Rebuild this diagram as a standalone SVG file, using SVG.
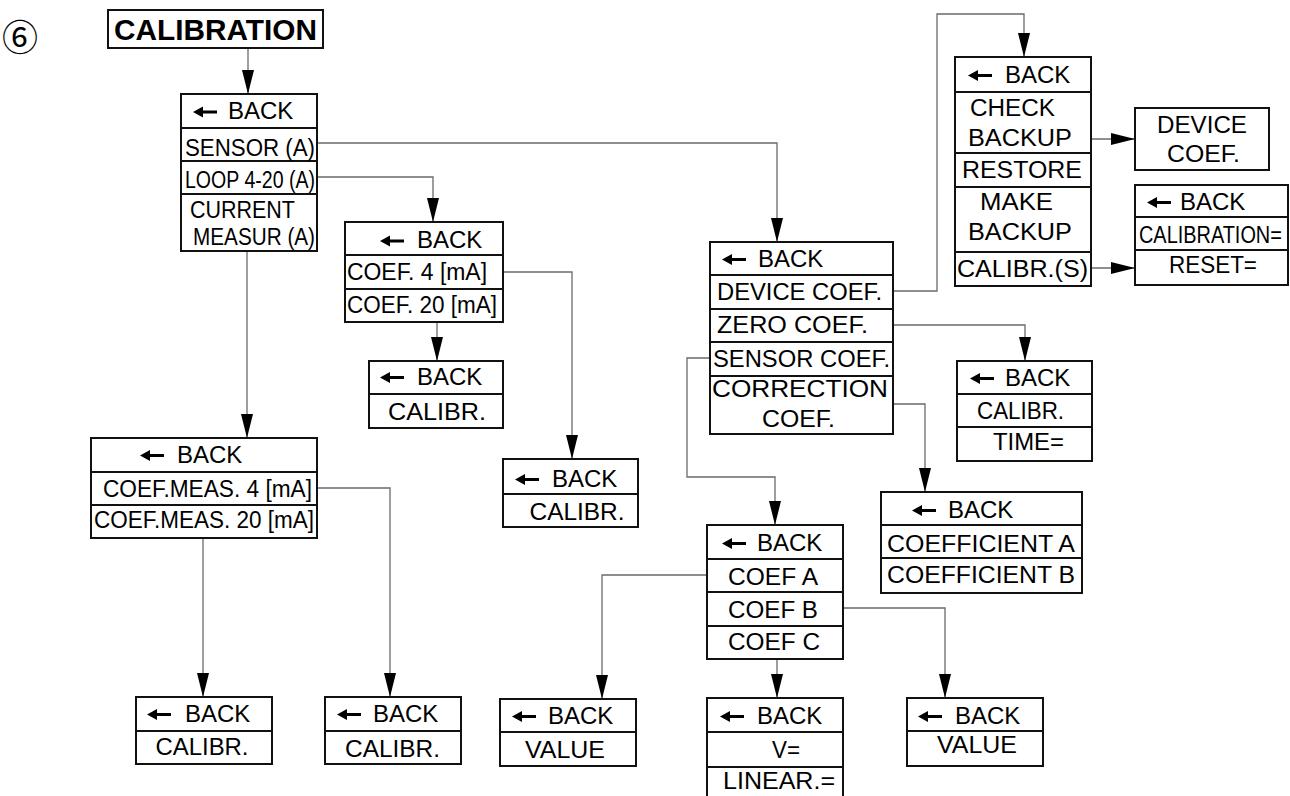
<svg xmlns="http://www.w3.org/2000/svg" xmlns:xlink="http://www.w3.org/1999/xlink" width="1290" height="796" viewBox="0 0 1290 796">
<defs>
<style>
.box{fill:#fff;stroke:#111;stroke-width:2}
.div{stroke:#111;stroke-width:2}
.t{font-family:"Liberation Sans",Arial,sans-serif;font-size:23px;fill:#000}
.b{font-family:"Liberation Sans",Arial,sans-serif;font-size:24px;fill:#000}
.c{fill:none;stroke:#6a6a6a;stroke-width:1.3}
</style>
<path id="bk" d="M0,0 L10,-5.5 L10,-1.6 L24,-1.6 L24,1.6 L10,1.6 L10,5.5 Z" fill="#000"/>
<marker id="ah" markerUnits="userSpaceOnUse" markerWidth="24" markerHeight="12" viewBox="0 0 24 12" refX="24" refY="6" orient="auto">
<path d="M0,0 L24,6 L0,12 Z" fill="#000"/>
</marker>
</defs>
<rect width="1290" height="796" fill="#fff"/>

<g id="connectors">
<path class="c" d="M248,48 V94" marker-end="url(#ah)"/>
<path class="c" d="M317,143 H777 V242" marker-end="url(#ah)"/>
<path class="c" d="M317,177 H433 V222" marker-end="url(#ah)"/>
<path class="c" d="M247,251 V438" marker-end="url(#ah)"/>
<path class="c" d="M503,272 H572 V459" marker-end="url(#ah)"/>
<path class="c" d="M437,322 V361" marker-end="url(#ah)"/>
<path class="c" d="M317,488 H390 V697" marker-end="url(#ah)"/>
<path class="c" d="M203,538 V697" marker-end="url(#ah)"/>
<path class="c" d="M893,291 H937 V14 H1024 V57" marker-end="url(#ah)"/>
<path class="c" d="M1091,139 H1135" marker-end="url(#ah)"/>
<path class="c" d="M1091,268 H1135" marker-end="url(#ah)"/>
<path class="c" d="M893,325 H1025 V361" marker-end="url(#ah)"/>
<path class="c" d="M710,358 H687 V477 H775 V525" marker-end="url(#ah)"/>
<path class="c" d="M893,404 H925 V492" marker-end="url(#ah)"/>
<path class="c" d="M707,575 H602 V699" marker-end="url(#ah)"/>
<path class="c" d="M777,659 V698" marker-end="url(#ah)"/>
<path class="c" d="M843,608 H945 V698" marker-end="url(#ah)"/>
</g>

<g id="n-index">
<text x="20" y="51" font-family="'Noto Sans CJK JP','DejaVu Sans',sans-serif" font-size="36" text-anchor="middle">⑥</text>
</g>

<g id="n-calibration">
<rect class="box" x="108" y="10" width="215" height="38"/>
<text x="215.5" y="40" text-anchor="middle" font-family="'Liberation Sans',Arial,sans-serif" font-size="29" font-weight="bold" textLength="203" lengthAdjust="spacingAndGlyphs">CALIBRATION</text>
</g>

<g id="n-main">
<rect class="box" x="181" y="94" width="136" height="157"/>
<path class="div" d="M181,128 H317 M181,161 H317 M181,194 H317"/>
<use href="#bk" x="193" y="112"/>
<text class="b" x="228" y="119">BACK</text>
<text class="t" x="185" y="156" textLength="130" lengthAdjust="spacingAndGlyphs">SENSOR (A)</text>
<text class="t" x="185" y="188" textLength="130" lengthAdjust="spacingAndGlyphs">LOOP 4-20 (A)</text>
<text class="t" x="190" y="218" textLength="105" lengthAdjust="spacingAndGlyphs">CURRENT</text>
<text class="t" x="193" y="245" textLength="122" lengthAdjust="spacingAndGlyphs">MEASUR (A)</text>
</g>

<g id="n-loop">
<rect class="box" x="345" y="222" width="158" height="100"/>
<path class="div" d="M345,255 H503 M345,289 H503"/>
<use href="#bk" x="380" y="241"/>
<text class="b" x="417" y="248">BACK</text>
<text class="t" x="347" y="280" textLength="140" lengthAdjust="spacingAndGlyphs">COEF. 4 [mA]</text>
<text class="t" x="347" y="313" textLength="150" lengthAdjust="spacingAndGlyphs">COEF. 20 [mA]</text>
</g>

<g id="n-loop-calibr20">
<rect class="box" x="369" y="361" width="134" height="67"/>
<path class="div" d="M369,394 H503"/>
<use href="#bk" x="380" y="377.5"/>
<text class="b" x="417" y="385">BACK</text>
<text class="t" x="437" y="420" text-anchor="middle" textLength="98" lengthAdjust="spacingAndGlyphs">CALIBR.</text>
</g>

<g id="n-loop-calibr4">
<rect class="box" x="503" y="459" width="135" height="68"/>
<path class="div" d="M503,494 H638"/>
<use href="#bk" x="515" y="479.5"/>
<text class="b" x="552" y="487">BACK</text>
<text class="t" x="577" y="520" text-anchor="middle" textLength="95" lengthAdjust="spacingAndGlyphs">CALIBR.</text>
</g>

<g id="n-meas">
<rect class="box" x="91" y="438" width="226" height="100"/>
<path class="div" d="M91,472 H317 M91,505 H317"/>
<use href="#bk" x="140" y="455.5"/>
<text class="b" x="177" y="463">BACK</text>
<text class="t" x="103" y="497" textLength="209" lengthAdjust="spacingAndGlyphs">COEF.MEAS. 4 [mA]</text>
<text class="t" x="94" y="528" textLength="220" lengthAdjust="spacingAndGlyphs">COEF.MEAS. 20 [mA]</text>
</g>

<g id="n-meas-calibr20">
<rect class="box" x="136" y="697" width="136" height="67"/>
<path class="div" d="M136,731 H272"/>
<use href="#bk" x="147" y="714.5"/>
<text class="b" x="185" y="722">BACK</text>
<text class="t" x="202" y="755" text-anchor="middle" textLength="93" lengthAdjust="spacingAndGlyphs">CALIBR.</text>
</g>

<g id="n-meas-calibr4">
<rect class="box" x="325" y="697" width="136" height="67"/>
<path class="div" d="M325,731 H461"/>
<use href="#bk" x="337" y="714.5"/>
<text class="b" x="373" y="722">BACK</text>
<text class="t" x="345" y="757" textLength="95" lengthAdjust="spacingAndGlyphs">CALIBR.</text>
</g>

<g id="n-sensor">
<rect class="box" x="710" y="242" width="183" height="192"/>
<path class="div" d="M710,275 H893 M710,309 H893 M710,342 H893 M710,376 H893"/>
<use href="#bk" x="722" y="259.5"/>
<text class="b" x="758" y="267">BACK</text>
<text class="t" x="717" y="300" textLength="165" lengthAdjust="spacingAndGlyphs">DEVICE COEF.</text>
<text class="t" x="717" y="333" textLength="151" lengthAdjust="spacingAndGlyphs">ZERO COEF.</text>
<text class="t" x="713" y="367" textLength="177" lengthAdjust="spacingAndGlyphs">SENSOR COEF.</text>
<text class="t" x="712" y="397" textLength="176" lengthAdjust="spacingAndGlyphs">CORRECTION</text>
<text class="t" x="762" y="427" textLength="73" lengthAdjust="spacingAndGlyphs">COEF.</text>
</g>

<g id="n-device">
<rect class="box" x="955" y="57" width="136" height="229"/>
<path class="div" d="M955,92 H1091 M955,153 H1091 M955,187 H1091 M955,252 H1091"/>
<use href="#bk" x="968" y="75.5"/>
<text class="b" x="1005" y="83">BACK</text>
<text class="t" x="970" y="116" textLength="85" lengthAdjust="spacingAndGlyphs">CHECK</text>
<text class="t" x="968" y="146" textLength="104" lengthAdjust="spacingAndGlyphs">BACKUP</text>
<text class="t" x="962" y="178" textLength="120" lengthAdjust="spacingAndGlyphs">RESTORE</text>
<text class="t" x="980" y="210" textLength="73" lengthAdjust="spacingAndGlyphs">MAKE</text>
<text class="t" x="968" y="240" textLength="104" lengthAdjust="spacingAndGlyphs">BACKUP</text>
<text class="t" x="957" y="277" textLength="131" lengthAdjust="spacingAndGlyphs">CALIBR.(S)</text>
</g>

<g id="n-devcoef">
<rect class="box" x="1135" y="108" width="134" height="62"/>
<text class="t" x="1157" y="133" textLength="90" lengthAdjust="spacingAndGlyphs">DEVICE</text>
<text class="t" x="1167" y="162" textLength="73" lengthAdjust="spacingAndGlyphs">COEF.</text>
</g>

<g id="n-calibrs">
<rect class="box" x="1135" y="185" width="153" height="100"/>
<path class="div" d="M1135,217 H1288 M1135,250 H1288"/>
<use href="#bk" x="1147" y="202.5"/>
<text class="b" x="1180" y="210">BACK</text>
<text class="t" transform="translate(1139 243) scale(0.866 1)">CALIBRATION=</text>
<text class="t" x="1169" y="273" textLength="88" lengthAdjust="spacingAndGlyphs">RESET=</text>
</g>

<g id="n-zero">
<rect class="box" x="957" y="361" width="135" height="100"/>
<path class="div" d="M957,394 H1092 M957,427 H1092"/>
<use href="#bk" x="970" y="378.5"/>
<text class="b" x="1005" y="386">BACK</text>
<text class="t" x="977" y="419" textLength="87" lengthAdjust="spacingAndGlyphs">CALIBR.</text>
<text class="t" x="993" y="450" textLength="71" lengthAdjust="spacingAndGlyphs">TIME=</text>
</g>

<g id="n-correction">
<rect class="box" x="881" y="492" width="201" height="101"/>
<path class="div" d="M881,525 H1082 M881,558 H1082"/>
<use href="#bk" x="912" y="510.5"/>
<text class="b" x="948" y="518">BACK</text>
<text class="t" x="887" y="552" textLength="188" lengthAdjust="spacingAndGlyphs">COEFFICIENT A</text>
<text class="t" x="887" y="583" textLength="188" lengthAdjust="spacingAndGlyphs">COEFFICIENT B</text>
</g>

<g id="n-sensorcoef">
<rect class="box" x="707" y="525" width="136" height="134"/>
<path class="div" d="M707,559 H843 M707,592 H843 M707,626 H843"/>
<use href="#bk" x="722" y="543.5"/>
<text class="b" x="757" y="551">BACK</text>
<text class="t" x="728" y="585" textLength="90" lengthAdjust="spacingAndGlyphs">COEF A</text>
<text class="t" x="728" y="618" textLength="90" lengthAdjust="spacingAndGlyphs">COEF B</text>
<text class="t" x="728" y="650" textLength="92" lengthAdjust="spacingAndGlyphs">COEF C</text>
</g>

<g id="n-coefa">
<rect class="box" x="500" y="699" width="136" height="67"/>
<path class="div" d="M500,732 H636"/>
<use href="#bk" x="512" y="716.5"/>
<text class="b" x="548" y="724">BACK</text>
<text class="t" x="525" y="758" textLength="80" lengthAdjust="spacingAndGlyphs">VALUE</text>
</g>

<g id="n-coefc">
<rect class="box" x="707" y="698" width="136" height="112"/>
<path class="div" d="M707,732 H843 M707,767 H843"/>
<use href="#bk" x="720" y="716.5"/>
<text class="b" x="757" y="724">BACK</text>
<text class="t" x="772" y="758" textLength="28" lengthAdjust="spacingAndGlyphs">V=</text>
<text class="t" x="723" y="789" textLength="112" lengthAdjust="spacingAndGlyphs">LINEAR.=</text>
</g>

<g id="n-coefb">
<rect class="box" x="907" y="698" width="136" height="68"/>
<path class="div" d="M907,731 H1043"/>
<use href="#bk" x="918" y="716.5"/>
<text class="b" x="955" y="724">BACK</text>
<text class="t" x="937" y="753" textLength="80" lengthAdjust="spacingAndGlyphs">VALUE</text>
</g>
</svg>
